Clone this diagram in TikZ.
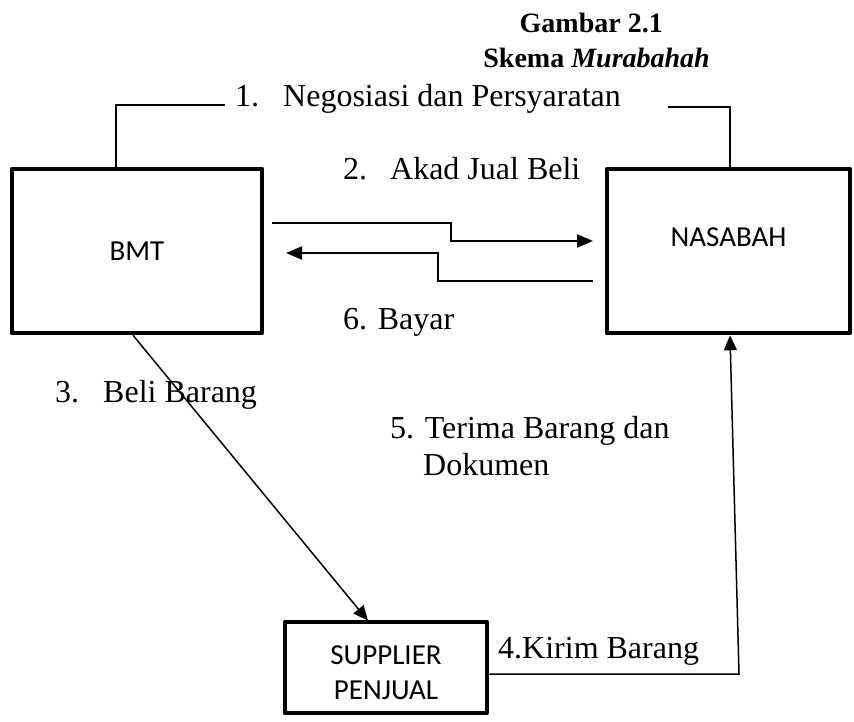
\documentclass[tikz,border=0pt]{standalone}
\usepackage{fontspec}
\setmainfont{Liberation Serif}
\newfontfamily\boxfont{Carlito}
\usetikzlibrary{arrows.meta,calc}
\begin{document}
\begin{tikzpicture}[x=1pt,y=-1pt,
  box/.style={draw, line width=4.5pt, line join=round, inner sep=0pt,
    font=\boxfont\fontsize{29}{35}\selectfont, align=center},
  txt/.style={inner sep=0pt, anchor=base west, font=\fontsize{32}{37}\selectfont, align=left},
  ttl/.style={inner sep=0pt, anchor=base east, font=\bfseries\fontsize{28}{32}\selectfont},
  conn/.style={line width=2pt},
  arr/.style={line width=2pt, -{Triangle[length=16pt,width=13pt]}},
  thinarr/.style={line width=1.5pt, -{Triangle[length=15pt,width=13pt]}},
]
\useasboundingbox (0,0) rectangle (854,722);
\fill[white] (0,0) rectangle (854,722);

% title
\node[ttl] (t1) at (663,33) {Gambar 2.1};
\node[ttl] (t2) at (710,68) {Skema \textit{Murabahah}};

% boxes
\node[box, minimum width=250pt, minimum height=164pt] (bmt) at (137,251) {BMT};
\node[box, minimum width=243pt, minimum height=164pt] (nas) at (728.5,251)
  {\raisebox{14pt}[\height][\depth]{NASABAH}};
\node[box, minimum width=202pt, minimum height=91pt] (sup) at (386,667.5)
  {\raisebox{-5pt}[\height][\depth]{SUPPLIER}\\\raisebox{-5pt}[\height][\depth]{PENJUAL}};

% labels
\node[txt] (l1) at (235,107) {\makebox[48pt][l]{1.}Negosiasi dan Persyaratan};
\node[txt] (l2) at (343,180) {\makebox[47pt][l]{2.}Akad Jual Beli};
\node[txt] (l6) at (343,329) {6. Bayar};
\node[txt] (l3) at (55,402) {\makebox[48pt][l]{3.}Beli Barang};
\node[txt] (l5) at (390,475) {5. Terima Barang dan\\\hspace*{33pt}Dokumen};
\node[txt] (l4) at (498,658) {4.Kirim Barang};

% 1. negotiation line
\coordinate (n1a) at (116,105);
\coordinate (n1b) at (225,105);
\draw[conn] (bmt.north -| n1a) -- (n1a) -- (n1b);
\coordinate (n1c) at (668,107);
\coordinate (n1d) at (730,107);
\draw[conn] (n1c) -- (n1d) -- (nas.north -| n1d);

% 2. akad
\coordinate (a2s) at (272,223);
\coordinate (a2k) at (451,223);
\coordinate (a2e) at (593,241);
\draw[arr] (a2s) -- (a2k) |- (a2e);

% 6. bayar
\coordinate (a6s) at (593,281);
\coordinate (a6k) at (438,281);
\coordinate (a6e) at (286,253);
\draw[arr] (a6s) -- (a6k) |- (a6e);

% 3. beli barang
\draw[thinarr] ($(bmt.south)+(-4,0)$) -- ($(sup.north)+(-18,1)$);

% 4. kirim barang
\coordinate (k4) at (739,674);
\draw[thinarr] ($(sup.east)+(0,6.5)$) -- (k4) -- ($(nas.south)+(1.5,0)$);
\end{tikzpicture}
\end{document}
